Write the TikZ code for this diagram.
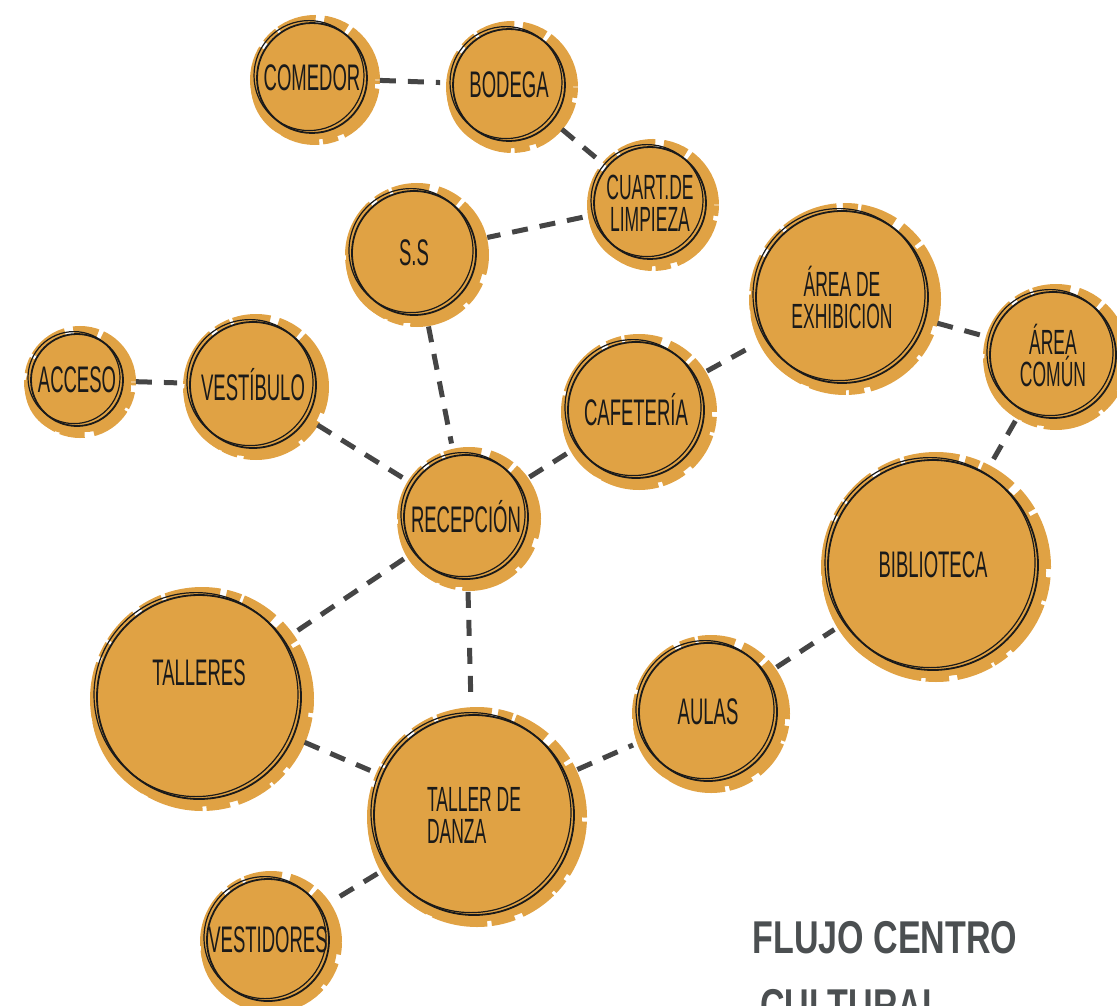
\documentclass[tikz,border=0pt]{standalone}
\usepackage{fontspec}
\usepackage{xcolor}
\usepackage{tikz}
\newfontfamily\roomfont[FakeStretch=0.5]{Liberation Sans}
\newfontfamily\titlefont[FakeStretch=0.74]{Liberation Sans}
\definecolor{paint}{HTML}{E0A244}
\definecolor{ink}{HTML}{1A1A1A}
\definecolor{flowgrey}{HTML}{454545}
\definecolor{titlegrey}{HTML}{4B4F51}
\tikzset{
  room/.style={circle, minimum size=#1, inner sep=0pt, align=center,
    fill=paint, draw=ink, line width=0.9pt, text=ink,
    font=\roomfont\fontsize{18.5}{15.5}\selectfont,
    preaction={draw=paint, line width=10pt,
      dash pattern=on 26pt off 2pt on 11pt off 4pt on 17pt off 1.5pt on 7pt off 3pt,
      transform canvas={shift={(1.5pt,-1pt)}}},
    preaction={fill=paint, transform canvas={shift={(4pt,-3pt)}}},
    preaction={fill=paint, transform canvas={shift={(-3pt,-4pt)}}},
    postaction={draw=ink, line width=0.6pt,
      transform canvas={shift={(-1.5pt,1.2pt)}}}},
  pair/.style={font=\roomfont\fontsize{17.5}{16}\selectfont},
  flow/.style={draw=flowgrey, line width=2.5pt, dash pattern=on 8pt off 6pt,
    shorten <=6pt, shorten >=6pt}
}
\begin{document}
\begin{tikzpicture}[x=0.5pt,y=-0.5pt]
\useasboundingbox (0,0) rectangle (1117,1005);
\node[room=55pt] (comedor) at (312,78) {COMEDOR};
\node[room=56pt] (bodega) at (509,85) {BODEGA};
\node[room=56pt, pair] (limpieza) at (650,203) {CUART.DE\\LIMPIEZA};
\node[room=62pt] (ss) at (414,253) {S.S};
\node[room=86pt, pair] (exhibicion) at (842,297) {ÁREA DE\\EXHIBICION};
\node[room=63pt, pair] (comun) at (1053,355) {ÁREA\\COMÚN};
\node[room=46pt] (acceso) at (77,380) {ACCESO};
\node[room=63pt] (vestibulo) at (253,385) {VESTÍBULO};
\node[room=68pt] (cafeteria) at (636,410) {CAFETERÍA};
\node[room=62pt] (recepcion) at (466,517) {RECEPCIÓN};
\node[room=105pt] (biblioteca) at (933,565) {BIBLIOTECA};
\node[room=102pt, text depth=24pt] (talleres) at (199,697) {TALLERES};
\node[room=69pt] (aulas) at (708,712) {AULAS};
\node[room=100pt, pair, align=left] (danza) at (474,815) {TALLER DE\\DANZA};
\node[room=61pt] (vestidores) at (268,940) {VESTIDORES};

\draw[flow] (comedor) -- (bodega);
\draw[flow] (bodega) -- (limpieza);
\draw[flow] (limpieza) -- (ss);
\draw[flow] (ss) -- (recepcion);
\draw[flow] (acceso) -- (vestibulo);
\draw[flow] (vestibulo) -- (recepcion);
\draw[flow] (recepcion) -- (cafeteria);
\draw[flow] (cafeteria) -- (exhibicion);
\draw[flow] (exhibicion) -- (comun);
\draw[flow] (comun) -- (biblioteca);
\draw[flow] (recepcion) -- (talleres);
\draw[flow] (recepcion) -- (danza);
\draw[flow] (talleres) -- (danza);
\draw[flow] (danza) -- (aulas);
\draw[flow] (aulas) -- (biblioteca);
\draw[flow] (danza) -- (vestidores);

\node[anchor=base west, align=left, inner sep=0pt, text=titlegrey,
  font=\titlefont\bfseries\fontsize{23}{34}\selectfont] (titulo) at (752,1021)
  {FLUJO CENTRO\\\hspace{4pt}CULTURAL};
\end{tikzpicture}
\end{document}
